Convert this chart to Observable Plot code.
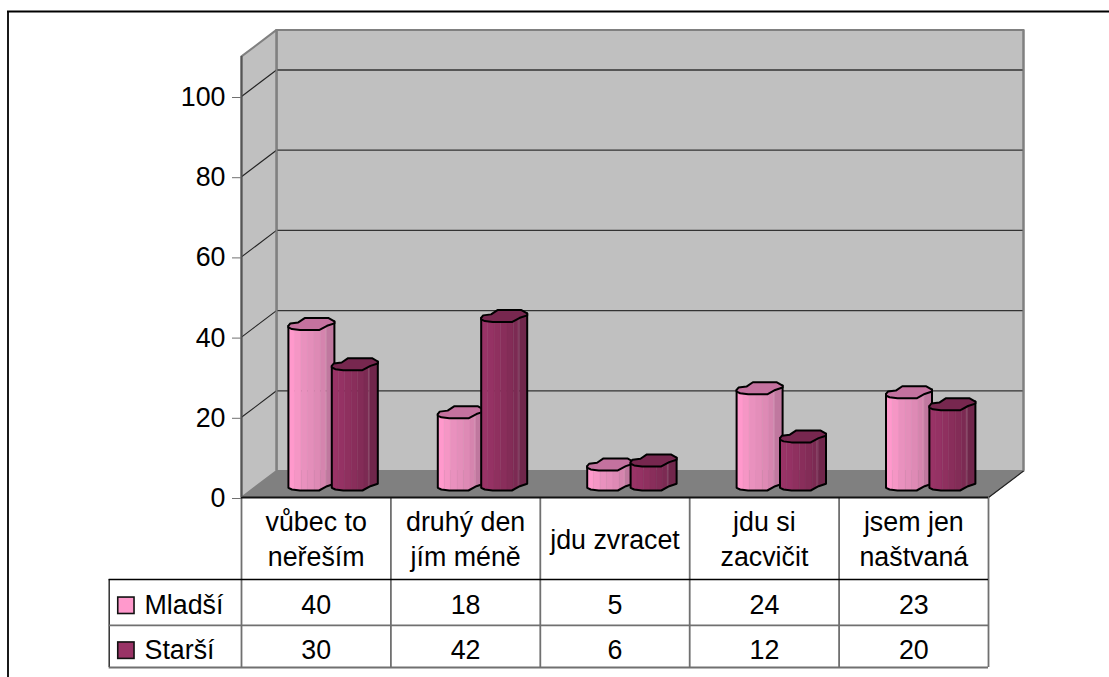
<!DOCTYPE html>
<html>
<head>
<meta charset="utf-8">
<script src="https://cdn.jsdelivr.net/npm/d3@7"></script>
<script src="https://cdn.jsdelivr.net/npm/@observablehq/plot@0.6"></script>
<style>
  html, body { margin: 0; padding: 0; background: #fff; overflow: hidden; }
  svg { display: block; }
</style>
</head>
<body>
<div id="chart"></div>
<script>
// Survey answers for the two age groups
const categories = ["vůbec to\nneřeším", "druhý den\njím méně", "jdu zvracet", "jdu si\nzacvičit", "jsem jen\nnaštvaná"];
const younger = [40, 18, 5, 24, 23];
const older = [30, 42, 6, 12, 20];
const seriesNames = ["Mladší", "Starší"];
const yTicks = [0, 20, 40, 60, 80, 100];

// Chart units: one category is 1 on x, one percent is 1 on y
const xUnit = 149.4, yUnit = 4.01;
const depthX = 35 / xUnit, depthY = 26.5 / yUnit;
const yMax = 110;
const FONT = "Liberation Sans, Arial, sans-serif";
const FS = 26.8;

// Strips that shade the rounded front of a column
const stripEdges = [0, .14, .28, .42, .56, .7, .8, .83, 1];
const pinkStrips = ["#FF99CC", "#F596C5", "#E991BE", "#E48EBA", "#DE8AB5", "#D584AE", "#D68DB2", "#C0789F"];
const plumStrips = ["#993366", "#953264", "#8F305F", "#892E5B", "#832C57", "#7C2A53", "#8A4668", "#70264B"];
const palette = [
  {strips: pinkStrips, top: "#C4729F", swatch: "#FF99CC"},
  {strips: plumStrips, top: "#77274F", swatch: "#993366"}
];

// Octagonal column section, in pixels relative to the front of the column
const sc = 46 / 48;
const frontProfile = [[0, 2.7], [3.7, 1], [12, 0], [32, 0], [40.3, 4.3], [48, 6.7]];
const capOutline = [[0, 4.3], [2, 6.7], [10.3, 7.7], [17, 12], [42, 12], [48, 8.7], [48, 6.7], [40.3, 4.3], [32, 0], [12, 0], [3.7, 1], [0, 2.7]];
const cx = p => p * sc / xUnit;
const cy = p => p / yUnit;
const columnWidth = cx(48);
const baseLift = 7 / yUnit;
const seriesOffset = [46.9 / xUnit, 90.3 / xUnit];

function profileAt(u) {
  const xs = frontProfile.map(p => p[0] / 48), ys = frontProfile.map(p => p[1]);
  let i = d3.bisectRight(xs, u) - 1;
  i = Math.max(0, Math.min(xs.length - 2, i));
  const t = (u - xs[i]) / (xs[i + 1] - xs[i]);
  return cy(ys[i] + t * (ys[i + 1] - ys[i]));
}

function columnMarks(value, cat, s) {
  const x0 = cat + seriesOffset[s];
  const b = baseLift, t = baseLift + value;
  const colors = palette[s];
  // break every strip at the profile's corners so its edge follows the outline
  const corners = frontProfile.map(p => p[0] / 48);
  const slats = [];
  colors.strips.forEach((fill, i) => {
    const a = stripEdges[i], e = stripEdges[i + 1];
    const us = [a, ...corners.filter(c => c > a && c < e), e];
    const pts = [
      ...us.map(u => ({x: x0 + u * columnWidth, y: b + profileAt(u)})),
      ...us.slice().reverse().map(u => ({x: x0 + u * columnWidth, y: t + profileAt(u)}))
    ];
    pts.forEach(p => slats.push({...p, id: i, fill}));
  });
  const side = [
    {x: x0, y: t + cy(capOutline[0][1])},
    ...frontProfile.map(p => ({x: x0 + cx(p[0]), y: b + cy(p[1])})),
    {x: x0 + columnWidth, y: t + cy(capOutline[1][1] + 2)}
  ];
  const cap = capOutline.map(p => ({x: x0 + cx(p[0]), y: t + cy(p[1])}));
  return [
    Plot.line(slats, {x: "x", y: "y", z: "id", fill: "fill", stroke: "fill", strokeWidth: 0.4, curve: "linear-closed"}),
    Plot.line(side, {x: "x", y: "y", stroke: "#000", strokeWidth: 2, strokeLinejoin: "round"}),
    Plot.line(cap, {x: "x", y: "y", fill: colors.top, stroke: "#000", strokeWidth: 2, strokeLinejoin: "round", curve: "linear-closed"})
  ];
}

// Walls and floor of the oblique box
const leftWall = [{x: 0, y: 0}, {x: depthX, y: depthY}, {x: depthX, y: yMax + depthY}, {x: 0, y: yMax}];
const backWall = [{x: depthX, y: depthY}, {x: 5 + depthX, y: depthY}, {x: 5 + depthX, y: yMax + depthY}, {x: depthX, y: yMax + depthY}];
const floor = [{x: 0, y: 0}, {x: 5, y: 0}, {x: 5 + depthX, y: depthY}, {x: depthX, y: depthY}];
const boxShape = (d, fill, stroke, strokeWidth) => Plot.line(d, {x: "x", y: "y", fill, stroke, strokeWidth, curve: "linear-closed"});

// Data table below the box, in the same units
const rowLines = {head: -20.45, first: -31.9, last: -42.4};
const rowMid = [-27.0, -38.2];
const tableLeft = -0.8856;
const catCentre = categories.map((_, i) => i + 0.5);
const tableRows = [younger, older];

const swatches = seriesNames.map((name, i) => ({
  name, x1: -0.825, x2: -0.716, y1: rowMid[i] + 2.05, y2: rowMid[i] - 2.05, fill: palette[i].swatch
}));
const cells = tableRows.flatMap((row, r) => row.map((v, c) => ({x: catCentre[c], y: rowMid[r], v})));

const plot = Plot.plot({
  width: 1109,
  height: 677,
  margin: 0,
  style: {background: "#fff", fontFamily: FONT},
  x: {type: "linear", domain: [-241 / xUnit, (1109 - 241) / xUnit], range: [0, 1109], axis: null},
  y: {type: "linear", domain: [-180 / yUnit, 497 / yUnit], range: [677, 0], axis: null},
  color: {type: "identity"},
  marks: [
    // outer frame, open to the right and below
    Plot.ruleY([(497 - 11) / yUnit], {x1: -234 / xUnit, x2: 868 / xUnit, stroke: "#000", strokeWidth: 1.8}),
    Plot.ruleX([-233.5 / xUnit], {y1: (497 - 11) / yUnit, y2: -180 / yUnit, stroke: "#000", strokeWidth: 1.8}),

    boxShape(backWall, "#C0C0C0", "#808080", 2),
    boxShape(floor, "#808080", "#808080", 1),
    boxShape(leftWall, "#C0C0C0", "#808080", 2),

    // grid on the back wall and its slant across the side wall
    Plot.ruleY(yTicks.slice(1), {y: d => d + depthY, x1: depthX, x2: 5 + depthX, stroke: "#333", strokeWidth: 1.3}),
    Plot.link(yTicks.slice(1), {x1: 0, y1: d => d, x2: depthX, y2: d => d + depthY, stroke: "#222", strokeWidth: 1.1}),
    Plot.ruleX([depthX], {y1: depthY, y2: yMax + depthY, stroke: "#808080", strokeWidth: 2}),
    Plot.ruleX([5 + depthX], {y1: depthY, y2: yMax + depthY, stroke: "#808080", strokeWidth: 2}),
    Plot.link([0], {x1: 5, y1: 0, x2: 5 + depthX, y2: depthY, stroke: "#222", strokeWidth: 1.2}),

    // columns, drawn left to right so each overlaps the one before it
    ...categories.flatMap((_, c) => [
      ...columnMarks(younger[c], c, 0),
      ...columnMarks(older[c], c, 1)
    ]),

    // data table rules
    Plot.ruleX(d3.range(0, 6), {y1: 0, y2: rowLines.last, stroke: "#707070", strokeWidth: 1.8}),
    Plot.ruleX([tableLeft], {y1: rowLines.head, y2: rowLines.last, stroke: "#222", strokeWidth: 1.4}),
    Plot.ruleY([rowLines.head], {x1: tableLeft, x2: 5, stroke: "#000", strokeWidth: 1.4}),
    Plot.ruleY([rowLines.first, rowLines.last], {x1: tableLeft, x2: 5, stroke: "#707070", strokeWidth: 1.8}),
    Plot.ruleY([0], {x1: 0, x2: 5, stroke: "#111", strokeWidth: 1.8}),
    Plot.ruleX([0], {y1: 0, y2: yMax, stroke: "#555", strokeWidth: 2}),

    // category captions, values and legend keys
    Plot.text(categories, {x: (_, i) => catCentre[i], y: -9.95, text: d => d, fontSize: FS, lineHeight: 1.31, fill: "#000"}),
    Plot.text(cells, {x: "x", y: "y", text: d => String(d.v), fontSize: FS, fill: "#000"}),
    Plot.rect(swatches, {x1: "x1", x2: "x2", y1: "y1", y2: "y2", fill: "fill", stroke: "#111", strokeWidth: 1.6}),
    Plot.text(swatches, {x: -0.649, y: (_, i) => rowMid[i], text: "name", textAnchor: "start", fontSize: FS, fill: "#000"}),

    Plot.axisY(yTicks, {x: 0, anchor: "left", tickSize: 9, tickPadding: 7, fontSize: FS, stroke: "#707070", color: "#000", label: null, dy: 1, tickFormat: d => String(d)})
  ]
});
document.getElementById("chart").append(plot);
</script>
</body>
</html>
